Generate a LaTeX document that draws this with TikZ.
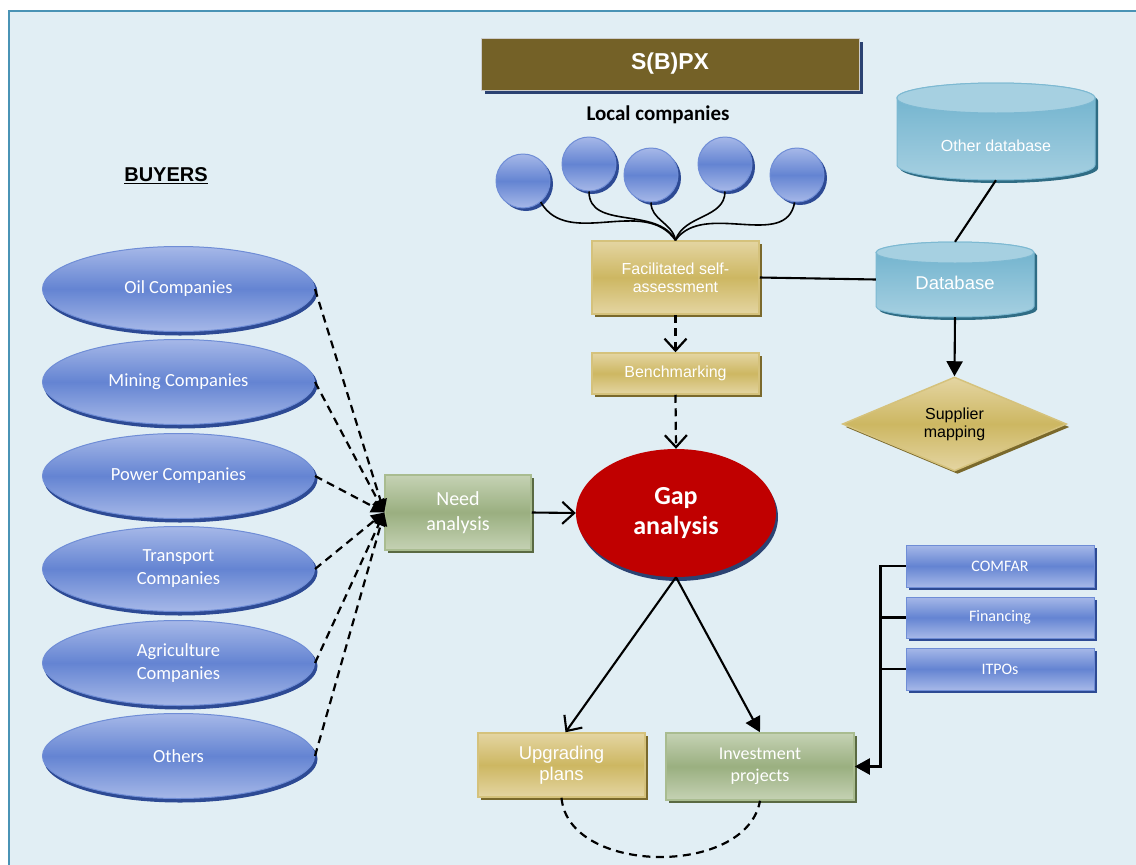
\documentclass[tikz,border=0pt]{standalone}
\usepackage{fontspec}
\setmainfont{Liberation Sans}
\newfontfamily\carlito{Carlito}
\usetikzlibrary{shapes.geometric,shadows,arrows.meta}

\definecolor{panel}{HTML}{E1EEF4}
\definecolor{panelrule}{HTML}{4A93B5}
\definecolor{olive}{HTML}{746127}
\definecolor{navyshade}{HTML}{2B4272}
\definecolor{bluelight}{HTML}{A6B8E8}
\definecolor{bluemid}{HTML}{6484D2}
\definecolor{blueedge}{HTML}{6F8DD6}
\definecolor{blueshadow}{HTML}{2D4A94}
\definecolor{goldlight}{HTML}{E4D5A2}
\definecolor{goldmid}{HTML}{CDB762}
\definecolor{goldedge}{HTML}{D5C27C}
\definecolor{goldshadow}{HTML}{7A692C}
\definecolor{greenlight}{HTML}{C5D2B4}
\definecolor{greenmid}{HTML}{9AAF80}
\definecolor{greenedge}{HTML}{A9BC90}
\definecolor{greenshadow}{HTML}{5A6A42}
\definecolor{gapred}{HTML}{C00000}
\definecolor{dbbody}{HTML}{6CB0CC}
\definecolor{dbend}{HTML}{A6D0E1}
\definecolor{dbedge}{HTML}{7DB9D2}
\definecolor{dbshadow}{HTML}{2F6C84}

\tikzset{
  castshadow/.style={drop shadow={shadow xshift=3pt,shadow yshift=-3pt,opacity=1,fill=#1}},
  bluething/.style={draw=blueedge,line width=1pt,top color=bluelight,bottom color=bluelight,middle color=bluemid,castshadow=blueshadow,text=white,align=center,inner sep=0pt},
  buyer/.style={bluething,ellipse,minimum width=272pt,minimum height=85pt,
    drop shadow={shadow xshift=1.5pt,shadow yshift=-4pt,opacity=1,fill=blueshadow},
    font=\carlito\fontsize{18.5}{23}\selectfont},
  localco/.style={bluething,circle,minimum size=54pt},
  toolbox/.style={bluething,rectangle,minimum width=188pt,font=\carlito\fontsize{16}{19}\selectfont},
  goldbox/.style={draw=goldedge,line width=1.5pt,top color=goldlight,bottom color=goldlight,middle color=goldmid,castshadow=goldshadow,text=white,align=center,inner sep=0pt,font=\fontsize{16}{18}\selectfont},
  greenbox/.style={draw=greenedge,line width=1.5pt,top color=greenlight,bottom color=greenlight,middle color=greenmid,castshadow=greenshadow,text=white,align=center,inner sep=0pt},
  dbnode/.style={inner sep=0pt,text=white,text depth=0pt},
  dbtop/.style={draw=dbedge,line width=1pt,fill=dbend},
  link/.style={line width=2.1pt},
  dashlink/.style={line width=2.2pt,dash pattern=on 8pt off 5.5pt},
  vtip/.style={-{Straight Barb[length=12pt,width=22pt]}},
  ftip/.style={-{Triangle[length=15pt,width=16pt]}}
}

\begin{document}
\begin{tikzpicture}[x=1pt,y=-1pt]
\useasboundingbox (0,0) rectangle (1136,865);
\fill[white] (0,0) rectangle (1136,865);
\draw[panelrule,line width=2pt,fill=panel] (9,11) rectangle (1145,875);

\node[fill=olive,draw=gray!40,line width=0.8pt,minimum width=378pt,minimum height=52pt,
  drop shadow={shadow xshift=4pt,shadow yshift=-4pt,opacity=1,fill=navyshade},
  text=white,font=\bfseries\fontsize{23}{26}\selectfont] (sbpx) at (670,64) {S(B)PX};
\node[font=\carlito\bfseries\fontsize{21}{24}\selectfont] (locals) at (658,115) {Local companies};
\node[font=\bfseries\fontsize{20}{24}\selectfont] (buyers) at (166,176) {\underline{BUYERS}};

\foreach \i/\x/\y in {1/523/181,2/589/164,3/651/175,4/725/164,5/797/175}
  \node[localco] (c\i) at (\x,\y) {};

\node[goldbox,minimum width=167pt,minimum height=73pt] (fsa) at (675.5,277.5) {Facilitated self-\\assessment};
\node[goldbox,minimum width=167pt,minimum height=41pt] (bench) at (675.5,373.5) {Benchmarking};

\foreach \i/\a/\b/\c in {1/-50/-60/125,2/-90/-90/118,3/-90/-90/100,4/-90/-90/72,5/-95/-100/55}
  \draw[line width=1.6pt] (c\i.\a) to[out=\b,in=\c] (fsa.north);

% database cylinders
\foreach \cx/\rx/\ty/\by/\ry in {996/99/83/180/15,955/79/242/317/10.5}{
  \fill[dbshadow] (\cx-\rx+3,\ty+\ry+3) -- (\cx-\rx+3,\by-\ry+3)
    arc[start angle=180,end angle=360,x radius=\rx pt,y radius=\ry pt] -- (\cx+\rx+3,\ty+\ry+3)
    arc[start angle=0,end angle=180,x radius=\rx pt,y radius=\ry pt] -- cycle;
  \draw[dbedge,line width=1pt,top color=dbbody,middle color=dbbody,bottom color=dbend] (\cx-\rx,\ty+\ry) -- (\cx-\rx,\by-\ry)
    arc[start angle=180,end angle=360,x radius=\rx pt,y radius=\ry pt] -- (\cx+\rx,\ty+\ry)
    arc[start angle=0,end angle=180,x radius=\rx pt,y radius=\ry pt] -- cycle;
  \draw[dbtop] (\cx,\ty+\ry) ellipse[x radius=\rx pt,y radius=\ry pt];
}
\node[dbnode,minimum width=198pt,minimum height=97pt,text height=40pt,font=\fontsize{16}{19}\selectfont] (odb) at (996,131.5) {Other database};
\node[dbnode,minimum width=158pt,minimum height=75pt,text height=20pt,font=\fontsize{18.5}{21}\selectfont] (db) at (955,279.5) {Database};
\node[goldbox,diamond,aspect=2.4,minimum width=224pt,minimum height=94pt,text=black] (supp) at (954.5,424) {Supplier\\mapping};

\node[fill=gapred,ellipse,minimum width=200pt,minimum height=128pt,
  drop shadow={shadow xshift=2pt,shadow yshift=-4pt,opacity=1,fill=navyshade},
  text=white,align=center,font=\carlito\bfseries\fontsize{26}{30}\selectfont] (gap) at (676,513) {Gap\\analysis};
\node[greenbox,minimum width=146pt,minimum height=75pt,font=\carlito\fontsize{20}{25}\selectfont] (need) at (458,512.5) {Need\\analysis};

\foreach \n/\y/\t in {oil/289/{Oil Companies},mine/382/{Mining Companies},power/476/{Power Companies},
  trans/569/{Transport\\Companies},agri/663/{Agriculture\\Companies},other/756/{Others}}
  \node[buyer] (\n) at (178.5,\y) {\t};

\node[goldbox,minimum width=167pt,minimum height=64pt,font=\fontsize{18.5}{21}\selectfont] (up) at (561.5,765) {Upgrading\\plans};
\node[greenbox,minimum width=188pt,minimum height=67pt,font=\carlito\fontsize{18}{22}\selectfont] (inv) at (760,766.5) {Investment\\projects};

\node[toolbox,minimum height=42pt] (com) at (1000,566) {COMFAR};
\node[toolbox,minimum height=41pt] (fin) at (1000,617.5) {Financing};
\node[toolbox,minimum height=42pt] (itp) at (1000,669) {ITPOs};

\draw[dashlink,vtip] (fsa.south) -- (bench.north);
\draw[dashlink,vtip] (bench.south) -- (gap.north);
\draw[link] (fsa.east) -- (db.west);
\draw[link] (odb.south) -- (db.north);
\draw[link,ftip] (db.south) -- (supp.north);

\foreach \n in {oil,mine,power,trans,agri,other}
  \draw[dashlink,-{Triangle[length=13pt,width=13pt]}] (\n.east) -- (need.west);

\draw[link,vtip] (need.east) -- (gap.west);
\draw[link,vtip] (gap.south) -- ([xshift=4pt]up.north);
\draw[link,ftip] (gap.south) -- (inv.north);
\draw[dashlink] (up.south) to[out=-85,in=-100] (inv.south);

\coordinate (bus) at ([xshift=-25pt]com.west);
\draw[link] (fin.west) -- (fin.west -| bus);
\draw[link] (itp.west) -- (itp.west -| bus);
\draw[link,ftip] (com.west) -- (bus) |- (inv.east);
\end{tikzpicture}
\end{document}
